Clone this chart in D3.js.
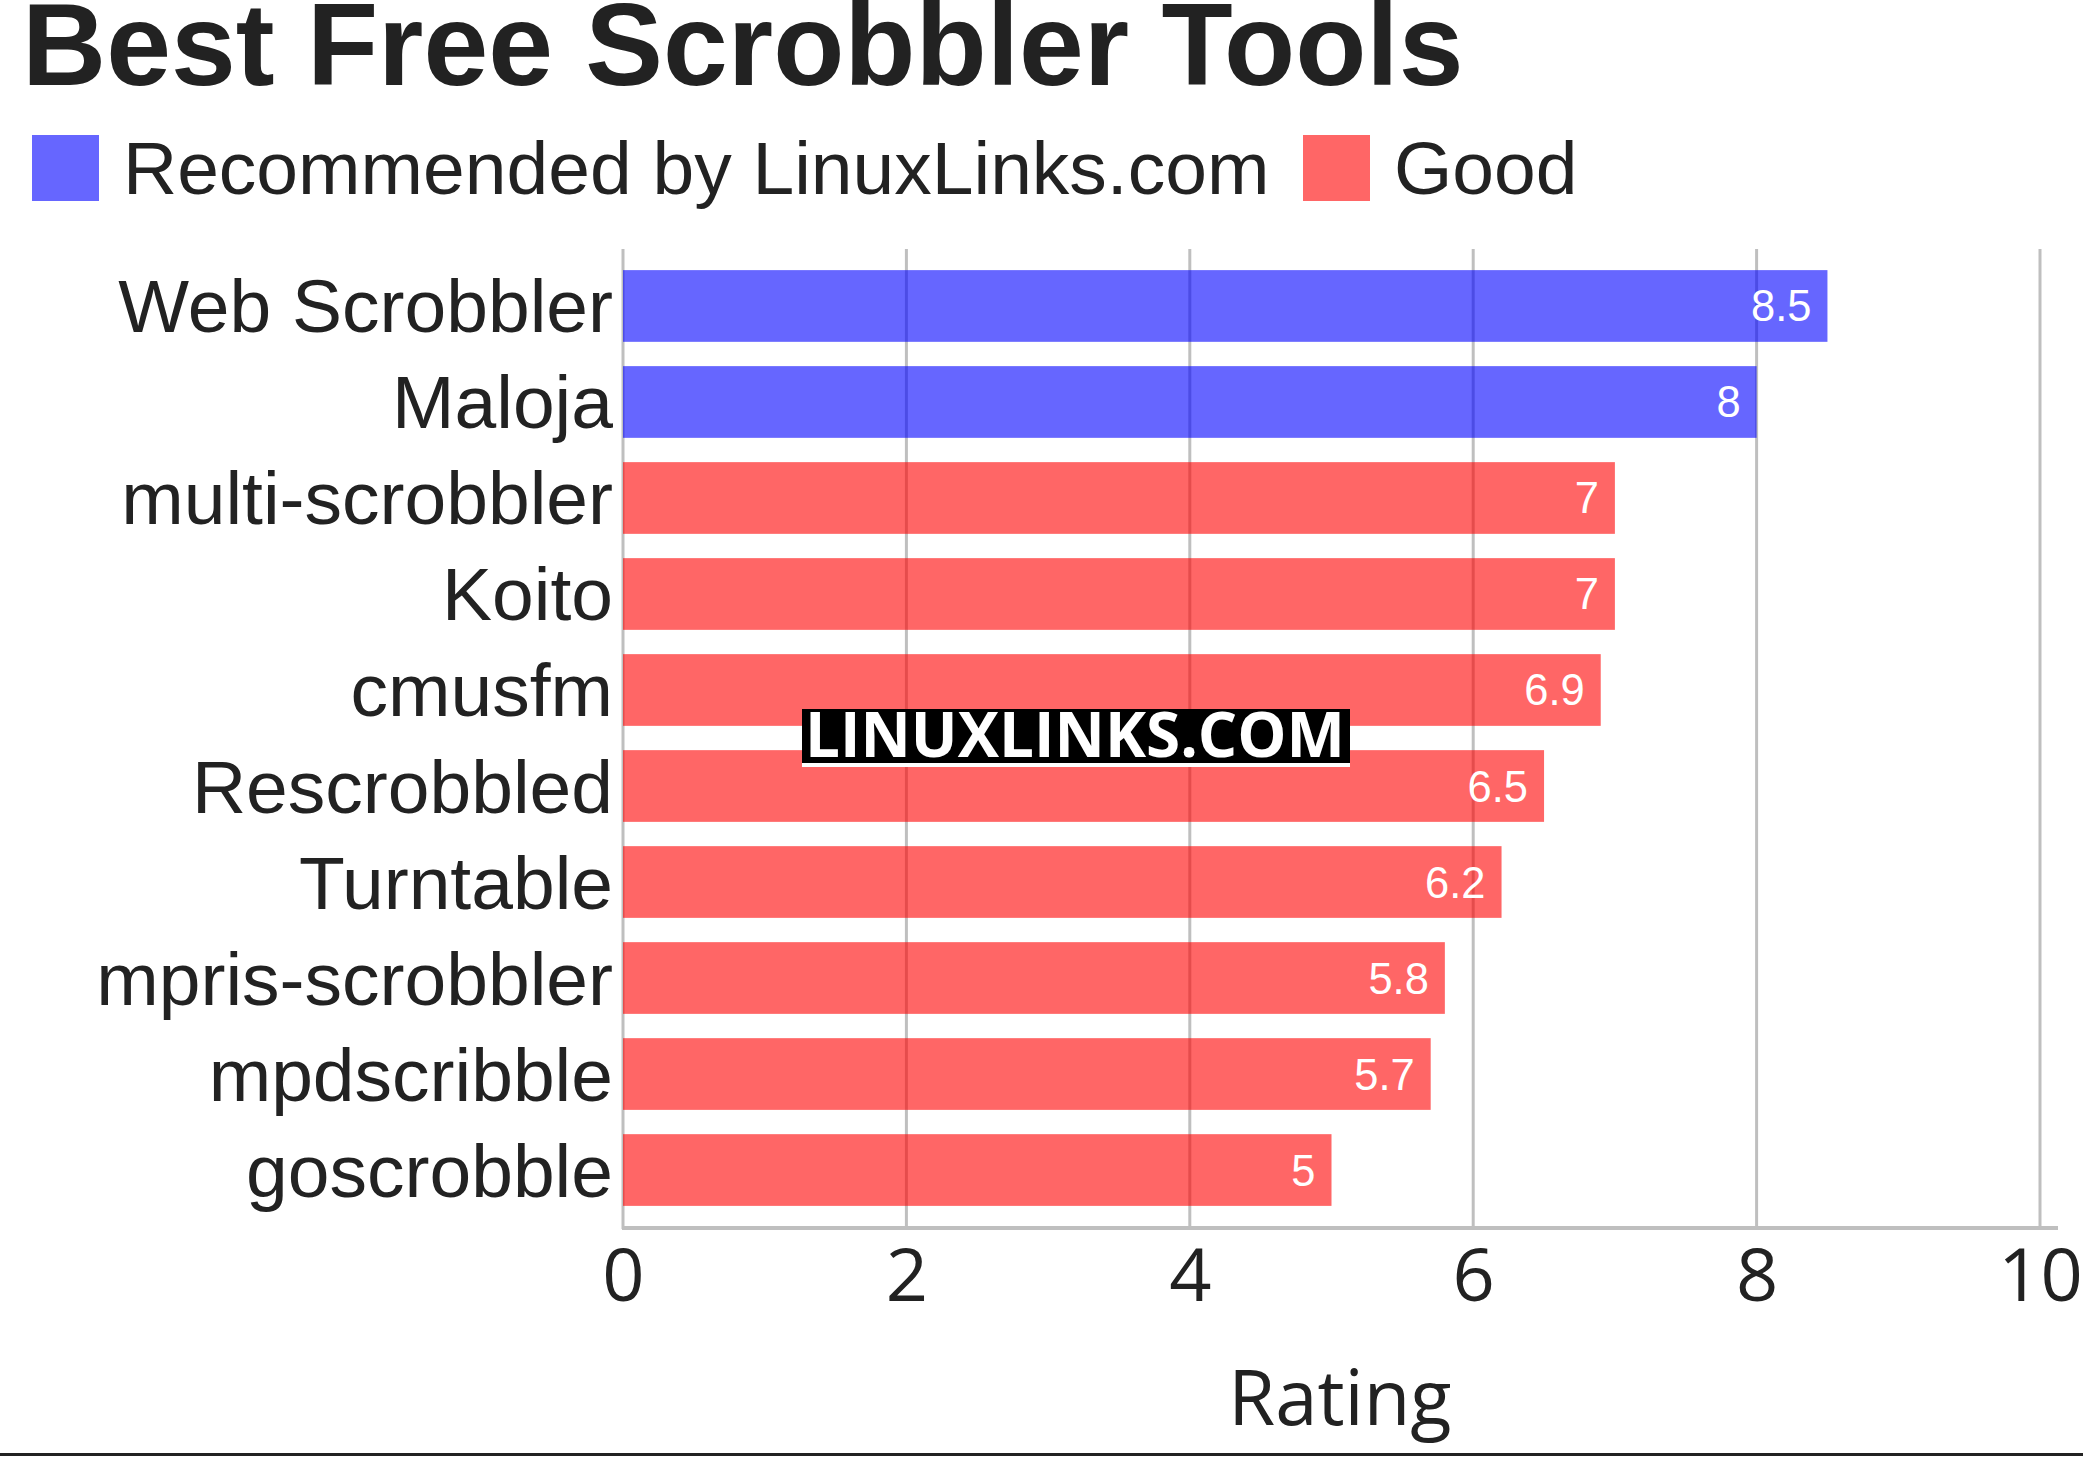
<!DOCTYPE html>
<html>
<head>
<meta charset="utf-8">
<script src="https://cdn.jsdelivr.net/npm/d3@7"></script>
<style>
  html, body { margin: 0; padding: 0; background: #fff; }
  svg { display: block; }
</style>
</head>
<body>
<svg id="chart" width="2083" height="1457"></svg>
<script>
const categories = ["Web Scrobbler", "Maloja", "multi-scrobbler", "Koito", "cmusfm", "Rescrobbled", "Turntable", "mpris-scrobbler", "mpdscribble", "goscrobble"];
const ratings = [8.5, 8, 7, 7, 6.9, 6.5, 6.2, 5.8, 5.7, 5];
const groups = ["Recommended by LinuxLinks.com", "Recommended by LinuxLinks.com", "Good", "Good", "Good", "Good", "Good", "Good", "Good", "Good"];
const legendLabels = ["Recommended by LinuxLinks.com", "Good"];
const legendColors = ["#0000ff", "#ff0000"];
const xTicks = [0, 2, 4, 6, 8, 10];
const titleText = "Best Free Scrobbler Tools";
const xAxisTitle = "Rating";
const watermarkText = "LINUXLINKS.COM";

const svg = d3.select("#chart");
const W = 2083, H = 1457;
const plot = { left: 623, right: 2040, top: 249, bottom: 1227 };
const textColor = "#222222";
const gridColor = "#bfbfbf";

const x = d3.scaleLinear().domain([0, 10]).range([plot.left, plot.right]);
const y = d3.scaleBand().domain(categories).range([plot.top, plot.bottom]).paddingInner(0.253).paddingOuter(0.22);
const color = d3.scaleOrdinal().domain(legendLabels).range(legendColors);

const data = categories.map((c, i) => ({ name: c, value: ratings[i], group: groups[i] }));

// Title
svg.append("text")
  .attr("x", 22).attr("y", 85)
  .attr("font-family", "'Liberation Sans', Arial, sans-serif")
  .attr("font-weight", "bold").attr("font-size", 116.5)
  .attr("fill", textColor)
  .text(titleText);

// Legend
const legendX = [32, 1303];
legendLabels.forEach((lab, i) => {
  svg.append("rect")
    .attr("x", legendX[i]).attr("y", 135).attr("width", 67).attr("height", 66)
    .attr("fill", legendColors[i]).attr("fill-opacity", 0.6);
  svg.append("text")
    .attr("x", legendX[i] + 91).attr("y", 194)
    .attr("font-family", "'Liberation Sans', Arial, sans-serif")
    .attr("font-size", 75).attr("fill", textColor)
    .text(lab);
});

// Gridlines
svg.append("g").selectAll("line")
  .data(xTicks.filter(t => t > 0))
  .join("line")
  .attr("x1", d => x(d)).attr("x2", d => x(d))
  .attr("y1", plot.top).attr("y2", plot.bottom)
  .attr("stroke", gridColor).attr("stroke-width", 3);

// Y axis line
svg.append("line")
  .attr("x1", plot.left).attr("x2", plot.left)
  .attr("y1", plot.top).attr("y2", plot.bottom + 2)
  .attr("stroke", gridColor).attr("stroke-width", 3);

// Bars (translucent, over the gridlines)
svg.append("g").selectAll("rect")
  .data(data)
  .join("rect")
  .attr("x", x(0))
  .attr("y", d => y(d.name))
  .attr("width", d => x(d.value) - x(0))
  .attr("height", y.bandwidth())
  .attr("fill", d => color(d.group))
  .attr("fill-opacity", 0.6);

// Value labels
svg.append("g").selectAll("text")
  .data(data)
  .join("text")
  .attr("x", d => x(d.value) - 16)
  .attr("y", d => y(d.name) + y.bandwidth() / 2 + 15.5)
  .attr("text-anchor", "end")
  .attr("font-family", "'Liberation Sans', Arial, sans-serif")
  .attr("font-size", 43.5)
  .attr("fill", "#ffffff")
  .text(d => d.value);

// Category labels
svg.append("g").selectAll("text")
  .data(data)
  .join("text")
  .attr("x", plot.left - 10)
  .attr("y", d => y(d.name) + y.bandwidth() / 2 + 26.5)
  .attr("text-anchor", "end")
  .attr("font-family", "'Liberation Sans', Arial, sans-serif")
  .attr("font-size", 75)
  .attr("fill", textColor)
  .text(d => d.name);

// X axis line
svg.append("line")
  .attr("x1", plot.left - 1).attr("x2", 2058)
  .attr("y1", plot.bottom + 1).attr("y2", plot.bottom + 1)
  .attr("stroke", gridColor).attr("stroke-width", 4);

// X axis via d3.axisBottom (labels only)
const xAxis = d3.axisBottom(x).tickValues(xTicks).tickSize(0).tickPadding(0).tickFormat(d3.format("d"));
const gx = svg.append("g").attr("transform", `translate(0, ${plot.bottom})`).call(xAxis);
gx.select(".domain").remove();
gx.selectAll("text")
  .attr("y", 74)
  .attr("dy", 0)
  .attr("font-family", "'Open Sans', 'Noto Sans', sans-serif")
  .attr("font-size", 74)
  .attr("fill", textColor);

// X axis title
svg.append("text")
  .attr("x", 1340).attr("y", 1425)
  .attr("text-anchor", "middle")
  .attr("font-family", "'Open Sans', 'Noto Sans', sans-serif")
  .attr("font-size", 76)
  .attr("fill", textColor)
  .text(xAxisTitle);

// Bottom rule
svg.append("rect")
  .attr("x", 0).attr("y", 1453).attr("width", W).attr("height", 3)
  .attr("fill", textColor);

// Watermark
const wm = svg.append("g");
wm.append("rect").attr("x", 802).attr("y", 709).attr("width", 548).attr("height", 58).attr("fill", "#ffffff");
wm.append("rect").attr("x", 802).attr("y", 709).attr("width", 548).attr("height", 54).attr("fill", "#000000");
wm.append("text")
  .attr("x", 805).attr("y", 757)
  .attr("font-family", "'Open Sans', 'Noto Sans', sans-serif")
  .attr("font-weight", "bold").attr("font-size", 62)
  .attr("textLength", 540).attr("lengthAdjust", "spacingAndGlyphs")
  .attr("fill", "#ffffff")
  .text(watermarkText);
</script>
</body>
</html>
